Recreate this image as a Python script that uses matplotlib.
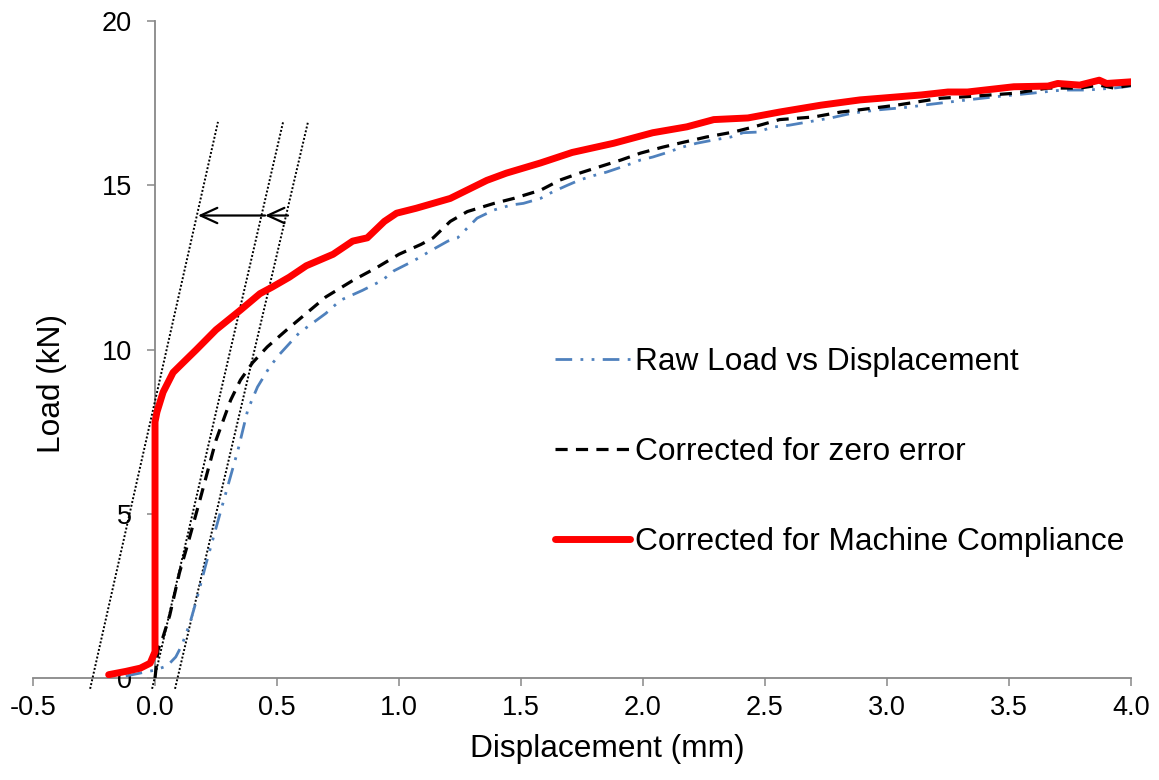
import matplotlib
matplotlib.use('Agg')
import matplotlib.pyplot as plt

plt.rcParams['font.family'] = ['Liberation Sans', 'DejaVu Sans']

# Raw load-displacement trace
raw_disp = [-0.12, 0.0, 0.05, 0.085, 0.11, 0.143, 0.17, 0.184, 0.21, 0.27, 0.34, 0.38, 0.42,
            0.47, 0.51, 0.59, 0.70, 0.76, 0.85, 0.93, 0.98, 1.06, 1.14, 1.2, 1.24, 1.28, 1.32,
            1.39, 1.46, 1.51, 1.58, 1.63, 1.69, 1.74, 1.8, 1.85, 1.93, 1.99, 2.04, 2.10, 2.16,
            2.22, 2.29, 2.36, 2.41, 2.47, 2.53, 2.60, 2.77, 2.86, 2.97, 3.09, 3.15, 3.25, 3.33,
            3.45, 3.59, 3.64, 3.72, 3.82, 3.93, 4.0]
raw_load = [0.06, 0.24, 0.37, 0.64, 1.0, 1.67, 2.37, 2.77, 3.5, 5.1, 6.94, 8.16, 8.86,
            9.47, 9.85, 10.5, 11.1, 11.5, 11.8, 12.1, 12.4, 12.7, 13.05, 13.3, 13.4, 13.7, 14.0,
            14.25, 14.4, 14.45, 14.6, 14.8, 15.0, 15.16, 15.3, 15.4, 15.6, 15.77, 15.86, 16.0, 16.16,
            16.28, 16.38, 16.47, 16.6, 16.62, 16.77, 16.83, 17.05, 17.2, 17.3, 17.38, 17.44, 17.53, 17.6,
            17.7, 17.8, 17.84, 17.9, 17.9, 17.96, 18.02]

# After zero-error correction
zero_disp = [0.0, 0.012, 0.033, 0.06, 0.10, 0.135, 0.184, 0.25, 0.31, 0.35, 0.40, 0.46, 0.54,
             0.62, 0.70, 0.81, 0.91, 1.0, 1.09, 1.14, 1.21, 1.28, 1.39, 1.47, 1.58, 1.66, 1.74,
             1.82, 1.91, 1.99, 2.08, 2.16, 2.26, 2.37, 2.45, 2.56, 2.70, 2.81, 2.89, 3.04, 3.22,
             3.33, 3.52, 3.66, 3.79, 3.87, 3.93, 4.0]
zero_load = [0.0, 0.85, 1.25, 1.9, 3.2, 4.1, 5.42, 7.24, 8.46, 9.07, 9.6, 10.08, 10.6,
             11.1, 11.6, 12.1, 12.5, 12.9, 13.2, 13.4, 13.9, 14.2, 14.45, 14.6, 14.85, 15.16, 15.37,
             15.56, 15.77, 15.98, 16.16, 16.3, 16.47, 16.62, 16.77, 17.0, 17.08, 17.23, 17.3, 17.44, 17.65,
             17.7, 17.8, 17.96, 17.96, 18.05, 17.96, 18.05]

# After machine compliance correction
mc_disp = [-0.19, -0.12, -0.06, -0.02, 0.0, 0.0, 0.008, 0.033, 0.074, 0.115, 0.17, 0.25, 0.35,
           0.43, 0.48, 0.55, 0.62, 0.73, 0.81, 0.87, 0.94, 0.99, 1.07, 1.14, 1.21, 1.36, 1.44,
           1.58, 1.71, 1.88, 2.04, 2.18, 2.29, 2.43, 2.56, 2.73, 2.89, 3.14, 3.25, 3.33, 3.52,
           3.66, 3.70, 3.79, 3.87, 3.90, 4.0]
mc_load = [0.1, 0.2, 0.3, 0.45, 0.8, 7.8, 8.1, 8.7, 9.3, 9.6, 10.0, 10.6, 11.2,
           11.7, 11.9, 12.2, 12.55, 12.9, 13.3, 13.4, 13.9, 14.15, 14.3, 14.45, 14.6, 15.15, 15.37,
           15.68, 16.0, 16.28, 16.6, 16.78, 17.0, 17.05, 17.23, 17.44, 17.6, 17.75, 17.84, 17.84, 18.0,
           18.02, 18.1, 18.05, 18.2, 18.1, 18.15]

# Elastic slope guide lines (start / end points)
guide_x0 = [-0.266, -0.012, 0.082]
guide_x1 = [0.258, 0.525, 0.627]
guide_y0 = -0.33
guide_y1 = 16.93

# Shift arrows
arrow_y = 14.08
arrow_pts = [(0.545, 0.451), (0.451, 0.176)]

xticks = [-0.5, 0.0, 0.5, 1.0, 1.5, 2.0, 2.5, 3.0, 3.5, 4.0]
yticks = [0, 5, 10, 15, 20]

fig = plt.figure(figsize=(11.59, 7.80), dpi=100)
ax = fig.add_axes([0.0285, 0.1308, 0.9473, 0.8422])

for x0, x1 in zip(guide_x0, guide_x1):
    ax.plot([x0, x1], [guide_y0, guide_y1], color='black', lw=1.4,
            linestyle=(0, (1, 1)), clip_on=False, zorder=2)

for xs, xe in arrow_pts:
    ax.annotate('', xy=(xe, arrow_y), xytext=(xs, arrow_y),
                arrowprops=dict(arrowstyle='->,head_length=1.2,head_width=0.55',
                                color='black', lw=1.6, shrinkA=0, shrinkB=0))

l1, = ax.plot(raw_disp, raw_load, color='#4F81BD', lw=2.0,
              dashes=(6, 3, 1, 3, 1, 3), label='Raw Load vs Displacement', zorder=3)
l2, = ax.plot(zero_disp, zero_load, color='black', lw=2.3,
              dashes=(3.8, 2.6), label='Corrected for zero error', zorder=3)
l3, = ax.plot(mc_disp, mc_load, color='#FF0000', lw=5,
              solid_capstyle='round', solid_joinstyle='round',
              label='Corrected for Machine Compliance', zorder=4)

ax.set_xlim(-0.5, 4.0)
ax.set_ylim(0, 20)
ax.set_xticks(xticks)
ax.set_xticklabels(['%.1f' % v for v in xticks])
ax.set_yticks(yticks)

ax.spines['top'].set_visible(False)
ax.spines['right'].set_visible(False)
ax.spines['left'].set_position(('data', 0))
for s in ('left', 'bottom'):
    ax.spines[s].set_color('#888888')
    ax.spines[s].set_linewidth(1.3)
    ax.spines[s].set_zorder(1)

ax.tick_params(axis='both', direction='out', length=5.5, width=1.1,
               color='#888888', labelsize=19.5, labelcolor='black')
ax.tick_params(axis='x', pad=7)
ax.tick_params(axis='y', pad=11)

ax.set_xlabel('Displacement (mm)', fontsize=22.8)
ax.xaxis.set_label_coords(0.523, -0.085)
ax.set_ylabel('Load (kN)', fontsize=22.8)
ax.yaxis.set_label_coords(0.031, 0.449)

ax.legend(handles=[l1, l2, l3], loc='center left',
          bbox_to_anchor=(555 / 1159, 1 - 452 / 780), bbox_transform=fig.transFigure,
          frameon=False, fontsize=22.8, handlelength=2.37, handletextpad=0.15,
          labelspacing=1.9, borderpad=0, borderaxespad=0)

fig.savefig('out.png', dpi=100)
